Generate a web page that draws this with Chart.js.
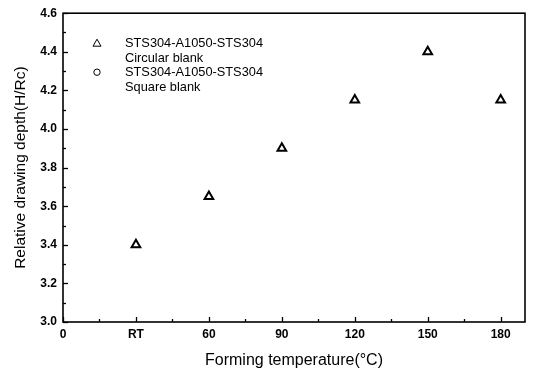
<!DOCTYPE html>
<html>
<head>
<meta charset="utf-8">
<script src="https://cdn.jsdelivr.net/npm/chart.js@4/dist/chart.umd.min.js"></script>
<style>
html,body{margin:0;padding:0;background:#fff;}
#wrap{width:534px;height:370px;}
</style>
</head>
<body>
<div id="wrap"><canvas id="c" width="534" height="370"></canvas></div>
<script>
// Data
const temperatures = [30, 60, 90, 120, 150, 180];      // RT plotted at 30
const circularDepth = [3.40, 3.65, 3.90, 4.15, 4.40, 4.15];
const squareDepth = [];
const xTickValues = [0, 30, 60, 90, 120, 150, 180];
const xTickLabels = ['0', 'RT', '60', '90', '120', '150', '180'];
const yTickLabels = ['3.0', '3.2', '3.4', '3.6', '3.8', '4.0', '4.2', '4.4', '4.6'];
const seriesNames = ['STS304-A1050-STS304', 'STS304-A1050-STS304'];
const seriesSubNames = ['Circular blank', 'Square blank'];

const FONT = "'Liberation Sans', Arial, sans-serif";

const framePlugin = {
  id: 'frame',
  afterDraw(chart) {
    const ctx = chart.ctx;
    const a = chart.chartArea;
    const xs = chart.scales.x, ys = chart.scales.y;
    ctx.save();
    ctx.strokeStyle = '#000';
    ctx.lineWidth = 1.6;
    ctx.strokeRect(a.left, a.top, a.right - a.left, a.bottom - a.top);
    ctx.lineWidth = 1.3;
    ys.ticks.forEach(t => {
      const v = t.value;
      const major = Math.round(v * 10) % 2 === 0;
      const p = Math.round(ys.getPixelForValue(v)) + 0.5;
      ctx.beginPath();
      ctx.moveTo(a.left, p);
      ctx.lineTo(a.left + (major ? 5 : 3), p);
      ctx.stroke();
    });
    xs.ticks.forEach(t => {
      const v = t.value;
      const major = Math.round(v) % 30 === 0;
      const p = Math.round(xs.getPixelForValue(v)) + 0.5;
      ctx.beginPath();
      ctx.moveTo(p, a.bottom);
      ctx.lineTo(p, a.bottom - (major ? 5 : 3));
      ctx.stroke();
    });
    // legend
    const lx = a.left + 34, ly = a.top + 30;
    const gap = 29;
    ctx.lineWidth = 1;
    ctx.fillStyle = '#000';
    ctx.font = '12.8px ' + FONT;
    ctx.textBaseline = 'middle';
    ctx.textAlign = 'left';
    for (let i = 0; i < 2; i++) {
      const cy = ly + i * gap;
      ctx.beginPath();
      if (i === 0) {
        ctx.moveTo(lx, cy - 4);
        ctx.lineTo(lx + 4, cy + 3);
        ctx.lineTo(lx - 4, cy + 3);
        ctx.closePath();
      } else {
        ctx.arc(lx, cy, 3.2, 0, Math.PI * 2);
      }
      ctx.stroke();
      ctx.fillText(seriesNames[i], lx + 28, cy);
      ctx.fillText(seriesSubNames[i], lx + 28, cy + 15);
    }
    ctx.restore();
  }
};

new Chart(document.getElementById('c'), {
  type: 'scatter',
  data: {
    datasets: [
      {
        label: seriesNames[0] + ' ' + seriesSubNames[0],
        data: temperatures.map((t, i) => ({x: t, y: circularDepth[i]})),
        pointStyle: 'triangle',
        pointRadius: 5,
        pointBorderWidth: 2,
        pointBackgroundColor: '#fff',
        pointBorderColor: '#000',
        showLine: false
      },
      {
        label: seriesNames[1] + ' ' + seriesSubNames[1],
        data: squareDepth,
        pointStyle: 'circle',
        pointRadius: 4,
        pointBorderWidth: 1,
        pointBackgroundColor: '#fff',
        pointBorderColor: '#000'
      }
    ]
  },
  options: {
    responsive: false,
    animation: false,
    layout: {padding: {top: 13, right: 9, left: 0, bottom: 0}},
    plugins: {legend: {display: false}, tooltip: {enabled: false}},
    scales: {
      x: {
        type: 'linear',
        min: 0, max: 190,
        afterBuildTicks(s) {
          const arr = [];
          for (let v = 0; v <= 180; v += 15) arr.push({value: v});
          s.ticks = arr;
        },
        afterFit(s) { s.height = 48; },
        grid: {display: false, drawTicks: false},
        border: {display: false},
        ticks: {
          color: '#000',
          padding: 5,
          autoSkip: false,
          maxRotation: 0,
          font: {family: FONT, size: 12, weight: 'bold'},
          callback(v) {
            const idx = xTickValues.indexOf(v);
            return idx >= 0 ? xTickLabels[idx] : '';
          }
        },
        title: {
          display: true,
          text: 'Forming temperature(°C)',
          color: '#000',
          font: {family: FONT, size: 16},
          padding: {top: 0, bottom: 0}
        }
      },
      y: {
        type: 'linear',
        min: 3.0, max: 4.6,
        afterBuildTicks(s) {
          const arr = [];
          for (let i = 0; i <= 16; i++) arr.push({value: +(3.0 + i * 0.1).toFixed(1)});
          s.ticks = arr;
        },
        afterFit(s) { s.width = 63; },
        grid: {display: false, drawTicks: false},
        border: {display: false},
        ticks: {
          color: '#000',
          padding: 6,
          autoSkip: false,
          font: {family: FONT, size: 12, weight: 'bold'},
          callback(v) {
            const k = Math.round(v * 10);
            return k % 2 === 0 ? yTickLabels[(k - 30) / 2] : '';
          }
        },
        title: {
          display: true,
          text: 'Relative drawing depth(H/Rc)',
          color: '#000',
          font: {family: FONT, size: 15.5},
          padding: {top: 11, bottom: 0}
        }
      }
    }
  },
  plugins: [framePlugin]
});
</script>
</body>
</html>
